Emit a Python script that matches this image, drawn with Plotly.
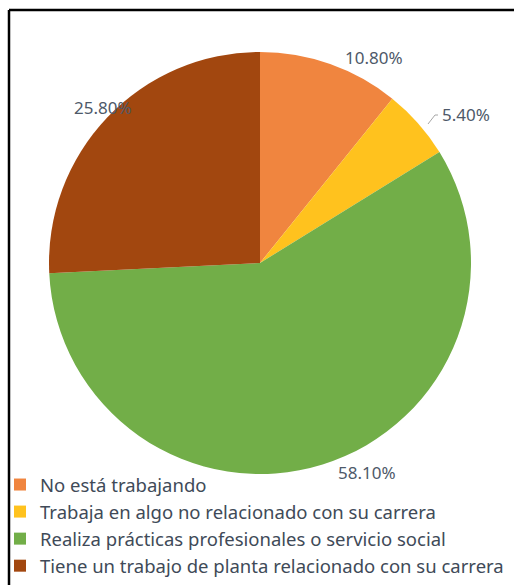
import plotly.graph_objects as go

categories = [
    "No está trabajando",
    "Trabaja en algo no relacionado con su carrera",
    "Realiza prácticas profesionales o servicio social",
    "Tiene un trabajo de planta relacionado con su carrera",
]
values = [10.80, 5.40, 58.10, 25.80]
colors = ["#F0853F", "#FFC21E", "#72AE48", "#A2470F"]

W, H = 514, 585

fig = go.Figure(go.Pie(
    labels=categories,
    values=values,
    sort=False,
    direction="clockwise",
    rotation=0,
    marker=dict(colors=colors, line=dict(width=0)),
    textinfo="none",
    hoverinfo="label+percent",
    domain=dict(x=[46 / W, 474 / W], y=[1 - 474 / H, 1 - 52 / H]),
    showlegend=True,
))

label_font = dict(family="Noto Sans, Open Sans, sans-serif", size=17, color="#4E5969")
# label anchor positions (pixel) for each slice label
label_pos = [(374, 58), (466, 115), (367, 472), (103, 107)]
for v, (px, py) in zip(values, label_pos):
    fig.add_annotation(
        x=px / W, y=1 - py / H, xref="paper", yref="paper",
        text=f"{v:.2f}%", showarrow=False, font=label_font,
        xanchor="center", yanchor="middle",
    )

# leader line for the small slice
fig.add_shape(type="path", xref="paper", yref="paper",
              path=f"M {428/W},{1-124/H} L {435/W},{1-115/H} L {438/W},{1-115/H}",
              line=dict(color="#A6A6A6", width=1))

# frame (left and top edges visible; the rest runs off the crop)
fig.add_shape(type="line", xref="paper", yref="paper",
              x0=9 / W, y0=0, x1=9 / W, y1=1 - 10 / H,
              line=dict(color="black", width=2.5))
fig.add_shape(type="line", xref="paper", yref="paper",
              x0=9 / W, y0=1 - 10 / H, x1=1.0, y1=1 - 10 / H,
              line=dict(color="black", width=2.5))

fig.update_layout(
    width=W, height=H,
    margin=dict(l=0, r=0, t=0, b=0),
    paper_bgcolor="white",
    plot_bgcolor="white",
    legend=dict(
        x=0, y=0, xanchor="left", yanchor="bottom",
        font=dict(family="Noto Sans, Open Sans, sans-serif", size=18.5, color="#404A58"),
        bgcolor="rgba(0,0,0,0)",
        itemwidth=30,
        tracegroupgap=0,
    ),
)

fig.write_html(
    "out.html",
    config={"displayModeBar": False},
    post_script="document.documentElement.style.overflow='hidden';document.body.style.margin='0';document.body.style.overflow='hidden';",
)
